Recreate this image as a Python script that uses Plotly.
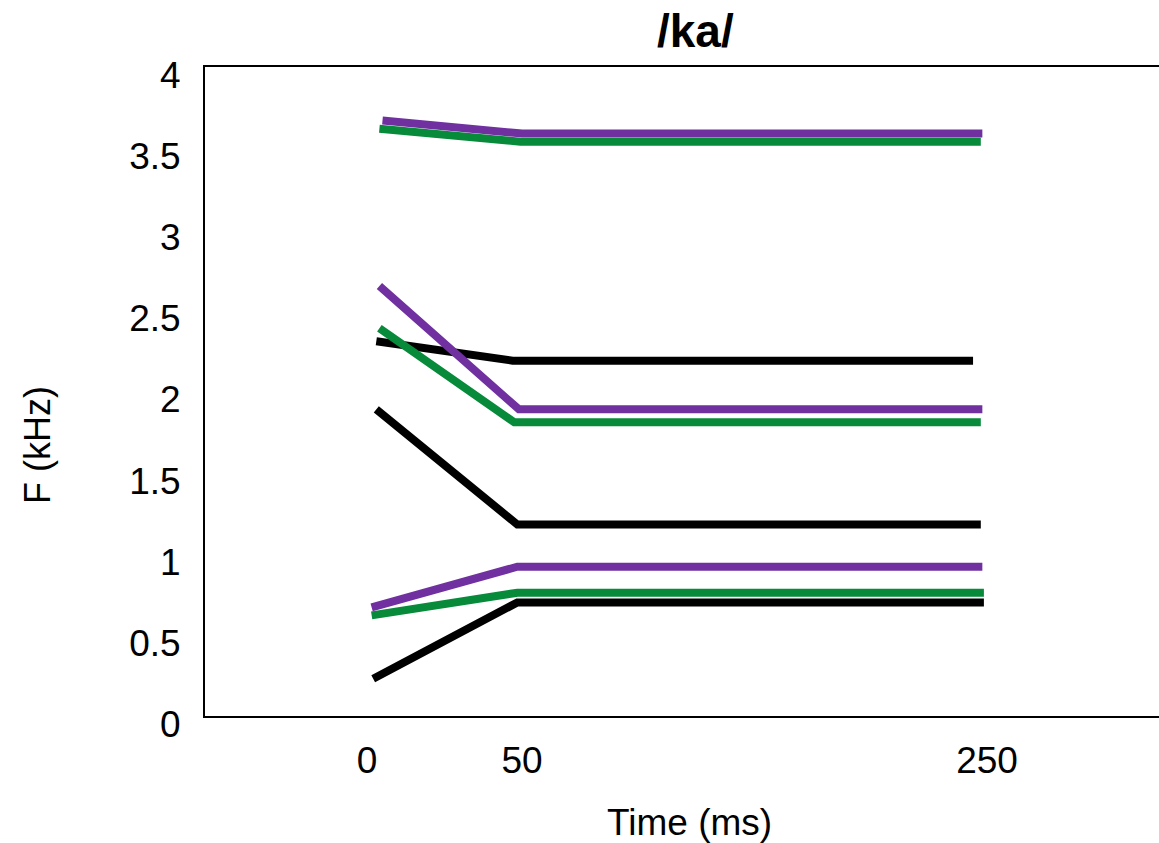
import plotly.graph_objects as go

# Axis positions (ticks at 0, 1, 4 correspond to 0, 50, 250 ms)
x_tickvals = [0, 1, 4]
x_ticktext = ["0", "50", "250"]
y_tickvals = [0, 0.5, 1, 1.5, 2, 2.5, 3, 3.5, 4]
y_ticktext = ["0", "0.5", "1", "1.5", "2", "2.5", "3", "3.5", "4"]

# Formant tracks (kHz), x in axis positions
black_f1_x = [0.04, 0.97, 3.98]
black_f1_y = [0.23, 0.70, 0.70]
black_f2_x = [0.06, 0.97, 3.96]
black_f2_y = [1.89, 1.18, 1.18]
black_f3_x = [0.06, 0.94, 3.91]
black_f3_y = [2.31, 2.19, 2.19]

green_f1_x = [0.03, 0.97, 3.98]
green_f1_y = [0.62, 0.76, 0.76]
green_f2_x = [0.08, 0.95, 3.96]
green_f2_y = [2.39, 1.81, 1.81]
green_f3_x = [0.08, 0.99, 3.96]
green_f3_y = [3.62, 3.54, 3.54]

purple_f1_x = [0.03, 0.97, 3.97]
purple_f1_y = [0.67, 0.92, 0.92]
purple_f2_x = [0.08, 0.98, 3.97]
purple_f2_y = [2.65, 1.89, 1.89]
purple_f3_x = [0.10, 1.00, 3.97]
purple_f3_y = [3.67, 3.59, 3.59]

BLACK = "#000000"
GREEN = "#078A3A"
PURPLE = "#7030A0"
LW = 8
FONT = "Liberation Sans, Arial, sans-serif"

series = [
    (black_f1_x, black_f1_y, BLACK),
    (black_f2_x, black_f2_y, BLACK),
    (black_f3_x, black_f3_y, BLACK),
    (green_f1_x, green_f1_y, GREEN),
    (green_f2_x, green_f2_y, GREEN),
    (green_f3_x, green_f3_y, GREEN),
    (purple_f1_x, purple_f1_y, PURPLE),
    (purple_f2_x, purple_f2_y, PURPLE),
    (purple_f3_x, purple_f3_y, PURPLE),
]

fig = go.Figure()
for xs, ys, c in series:
    fig.add_trace(go.Scatter(x=xs, y=ys, mode="lines",
                             line=dict(color=c, width=LW),
                             showlegend=False, hoverinfo="skip"))

W, H = 1159, 843
L, R, T, B = 205, 0, 67, 127

fig.update_layout(
    width=W, height=H,
    margin=dict(l=L, r=R, t=T, b=B, pad=0),
    paper_bgcolor="white", plot_bgcolor="white",
    font=dict(family=FONT, color="black", size=37),
    xaxis=dict(range=[-162 / 155, 792 / 155], tickvals=x_tickvals, ticktext=x_ticktext,
               showgrid=False, zeroline=False, showline=True, linecolor="black",
               linewidth=2, mirror=True, ticks="", ticklabelstandoff=11,
               tickfont=dict(size=37, family=FONT, color="black")),
    yaxis=dict(range=[0, 4], tickvals=y_tickvals, ticktext=y_ticktext,
               showgrid=False, zeroline=False, showline=True, linecolor="black",
               linewidth=2, ticks="", ticklabelstandoff=15, ticklabelshift=8,
               tickfont=dict(size=37, family=FONT, color="black")),
    annotations=[
        dict(text="<b>/ka/</b>", x=695, y=31, showarrow=False,
             font=dict(size=46, family=FONT, color="black")),
        dict(text="Time (ms)", x=689, y=822, showarrow=False,
             font=dict(size=37, family=FONT, color="black")),
        dict(text="F (kHz)", x=38, y=445, textangle=-90, showarrow=False,
             font=dict(size=36, family=FONT, color="black")),
    ],
)

# convert pixel-placed annotations to paper coordinates
plot_w = W - L - R
plot_h = H - T - B
new_ann = []
for a in fig.layout.annotations:
    px, py = a.x, a.y
    a.xref = "paper"
    a.yref = "paper"
    a.x = (px - L) / plot_w
    a.y = (H - B - py) / plot_h
    a.xanchor = "center"
    a.yanchor = "middle"
    new_ann.append(a)
fig.layout.annotations = new_ann

fig.write_html("out.html")
